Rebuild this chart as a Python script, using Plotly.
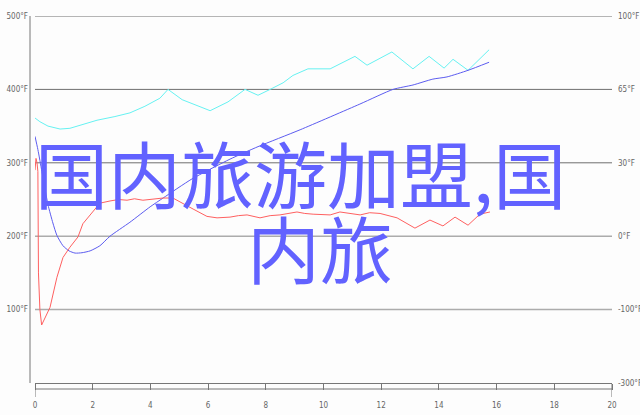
import plotly.graph_objects as go

# ---------------- data (minutes, °F on the left scale) ----------------
cyan_min = [0.00, 0.17, 0.45, 0.87, 1.21, 1.56, 2.15, 2.77, 3.29, 3.81, 4.33, 4.61,
            5.10, 6.07, 6.69, 7.28, 7.73, 8.15, 8.60, 8.94, 9.46, 10.23, 11.09,
            11.51, 12.37, 13.10, 13.66, 14.18, 14.49, 15.01, 15.74]
cyan_temp = [361, 356, 350, 346, 347, 351, 358, 363, 368, 377, 388, 400,
             386, 371, 383, 400, 392, 400, 409, 419, 428, 428, 445,
             433, 451, 428, 445, 429, 441, 426, 454]

blue_min = [0.00, 0.10, 0.24, 0.45, 0.62, 0.76, 0.97, 1.18, 1.39, 1.63, 1.91, 2.25,
            2.60, 3.29, 3.99, 4.44, 5.44, 6.76, 7.73, 9.19, 11.26, 12.41, 13.10,
            13.79, 14.28, 15.01, 15.74]
blue_temp = [336, 318, 288, 243, 218, 201, 187, 180, 177, 177.5, 180, 187,
             200, 219, 240, 252, 278, 305, 322, 345, 380, 400, 406,
             414, 417, 426, 437]

red_min = [0.00, 0.035, 0.07, 0.10, 0.12, 0.17, 0.23, 0.31, 0.52, 0.76, 0.97, 1.21,
           1.49, 1.66, 1.98, 2.25, 2.60, 2.90, 3.19, 3.45, 3.74, 4.10, 4.44, 4.78,
           5.13, 5.48, 5.96, 6.31, 6.76, 7.05, 7.35, 7.80, 8.15, 8.49, 9.08, 9.35,
           9.64, 10.23, 10.57, 10.90, 11.27, 11.60, 11.96, 12.55, 13.17, 13.69,
           14.14, 14.56, 15.01, 15.42, 15.77]
red_temp = [290, 306, 300, 288, 150, 100, 79, 85, 103, 144, 171, 185,
            199, 217, 233, 245, 248, 250, 249, 251, 249, 251, 252, 252,
            245, 237, 227, 225, 226, 228, 229, 225, 228, 229, 233, 231,
            230, 229, 233, 231, 229, 232, 231, 225, 211, 222,
            214, 226, 215, 230, 233]

left_ticks = [100, 200, 300, 400, 500]
left_labels = ["100°F", "200°F", "300°F", "400°F", "500°F"]
right_ticks = [0, 100, 200, 300, 400, 500]
right_labels = ["-300°F", "-100°F", "0°F", "30°F", "65°F", "100°F"]
x_ticks = [0, 2, 4, 6, 8, 10, 12, 14, 16, 18, 20]
dark_grid = [300, 400, 500]
light_grid = [100, 200]

title_line1 = "国内旅游加盟,国"
title_line2 = "内旅"

# ---------------- layout geometry (px) ----------------
W, H = 640, 415
L, R, T, B = 35, 28, 16, 32
PW, PH = W - L - R, H - T - B


def px_x(px):
    return (px - L) / PW


def px_y(py):
    return (H - B - py) / PH


fig = go.Figure()
fig.add_trace(go.Scatter(x=cyan_min, y=cyan_temp, mode="lines",
                         line=dict(color="#66f2f2", width=1), hoverinfo="skip"))
fig.add_trace(go.Scatter(x=blue_min, y=blue_temp, mode="lines",
                         line=dict(color="#5c5cf0", width=1, shape="spline", smoothing=0.6),
                         hoverinfo="skip"))
fig.add_trace(go.Scatter(x=red_min, y=red_temp, mode="lines",
                         line=dict(color="#ff6060", width=1), hoverinfo="skip"))
# invisible trace for right axis
fig.add_trace(go.Scatter(x=[0], y=[0], yaxis="y2", mode="markers",
                         marker=dict(opacity=0), hoverinfo="skip"))

shapes = []
for v in dark_grid:
    shapes.append(dict(type="line", xref="paper", yref="y", x0=0, x1=1, y0=v, y1=v,
                       line=dict(color="#6e6e6e", width=1), layer="below"))
for v in light_grid:
    shapes.append(dict(type="line", xref="paper", yref="y", x0=0, x1=1, y0=v, y1=v,
                       line=dict(color="#acacac", width=1.5), layer="below"))
# left vertical axis line
shapes.append(dict(type="line", xref="paper", yref="paper", x0=px_x(30), x1=px_x(30),
                   y0=0, y1=1, line=dict(color="#777777", width=1)))
# second bottom line of the x-axis band
shapes.append(dict(type="line", xref="paper", yref="paper", x0=0, x1=1,
                   y0=px_y(389), y1=px_y(389), line=dict(color="#777777", width=1)))
# long end ticks
for xv in (x_ticks[0], x_ticks[-1]):
    shapes.append(dict(type="line", xref="x", yref="paper", x0=xv, x1=xv,
                       y0=0, y1=px_y(397), line=dict(color="#777777", width=1)))

tick_font = dict(family="Liberation Sans Narrow, Arial Narrow, DejaVu Sans Condensed, sans-serif",
                 size=8, color="#666666")

fig.update_layout(
    width=W, height=H,
    margin=dict(l=L, r=R, t=T, b=B, autoexpand=False),
    paper_bgcolor="#fdfdfd", plot_bgcolor="#fdfdfd",
    showlegend=False,
    shapes=shapes,
    xaxis=dict(range=[0, 20], tickvals=x_ticks, ticks="outside", ticklen=6,
               tickcolor="#777777", showline=True, linecolor="#777777", linewidth=1,
               showgrid=False, zeroline=False, tickfont=tick_font,
               ticklabelstandoff=8),
    yaxis=dict(range=[0, 500], tickvals=left_ticks, ticktext=left_labels,
               ticks="", showgrid=False, zeroline=False, showline=False,
               tickfont=tick_font, ticklabelstandoff=6),
    yaxis2=dict(range=[0, 500], overlaying="y", side="right", tickvals=right_ticks,
                ticktext=right_labels, ticks="", showgrid=False, zeroline=False,
                showline=False, tickfont=tick_font, ticklabelstandoff=5),
    annotations=[
        dict(text=title_line1, xref="paper", yref="paper", x=px_x(33), y=px_y(171),
             xanchor="left", yanchor="middle", showarrow=False,
             font=dict(family="Noto Sans CJK SC", size=73, color="#6262ff")),
        dict(text=title_line2, xref="paper", yref="paper", x=px_x(245), y=px_y(246),
             xanchor="left", yanchor="middle", showarrow=False,
             font=dict(family="Noto Sans CJK SC", size=73, color="#6262ff")),
    ],
)

fig.write_html("out.html", config={"displayModeBar": False},
               post_script="document.body.style.margin='0';document.body.style.background='#fdfdfd';")
